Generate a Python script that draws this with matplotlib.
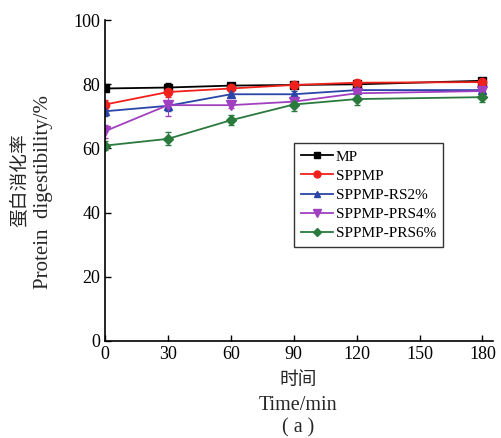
import matplotlib.pyplot as plt
from matplotlib.lines import Line2D

plt.rcParams["font.family"] = ["Liberation Serif", "Noto Sans CJK SC"]

time_min = [0, 30, 60, 90, 120, 180]
labels = ["MP", "SPPMP", "SPPMP-RS2%", "SPPMP-PRS4%", "SPPMP-PRS6%"]
mp = [78.7, 79.0, 79.6, 79.8, 80.0, 81.1]
sppmp = [73.7, 77.6, 78.7, 79.8, 80.5, 80.7]
rs2 = [71.6, 73.3, 76.9, 76.9, 78.2, 78.2]
prs4 = [65.4, 73.5, 73.5, 74.6, 77.2, 77.9]
prs6 = [60.9, 63.0, 68.8, 73.7, 75.4, 76.0]
mp_err = [0.8, 1.5, 0.8, 0.8, 0.8, 0.8]
sppmp_err = [1.5, 1.5, 0.8, 0.8, 0.8, 0.8]
rs2_err = [1.5, 1.5, 1.0, 1.0, 0.8, 0.8]
prs4_err = [2.0, 3.5, 1.0, 1.0, 1.0, 0.8]
prs6_err = [1.5, 2.0, 1.5, 2.0, 2.0, 1.5]

series = [mp, sppmp, rs2, prs4, prs6]
errors = [mp_err, sppmp_err, rs2_err, prs4_err, prs6_err]
colors = ["#000000", "#f0201c", "#2a44a8", "#a040c0", "#2a7a3e"]
markers = ["s", "o", "^", "v", "D"]
msizes = [5.5, 6, 6, 6.5, 5.5]


def main():
    fig = plt.figure(figsize=(5.01, 4.38), dpi=100)
    ax = fig.add_axes([0.2096, 0.2215, 0.7744, 0.7325])

    handles = []
    for y, e, c, m, ms, lab in zip(series, errors, colors, markers, msizes, labels):
        ax.errorbar(time_min, y, yerr=e, color=c, marker=m, markersize=ms,
                    lw=1.3, elinewidth=0.8, capsize=2)
        handles.append(Line2D([], [], color=c, marker=m, markersize=ms - 1, lw=1.3, label=lab))

    ax.set_xlim(0, 185)
    ax.set_ylim(0, 100)
    ax.set_xticks(range(0, 181, 30))
    ax.set_yticks(range(0, 101, 20))
    ax.spines["top"].set_visible(False)
    ax.spines["right"].set_visible(False)
    ax.spines["left"].set_linewidth(1.2)
    ax.spines["bottom"].set_linewidth(1.2)
    ax.tick_params(direction="in", labelsize=13, length=4, width=1)

    # two-line y label, Chinese above English
    fig.text(20 / 501, 0.589, "蛋白消化率", rotation=90, ha="center", va="center",
             fontsize=13.5, color="0.15")
    fig.text(44 / 501, 0.562, "Protein  digestibility/%", rotation=90, ha="center",
             va="center", fontsize=15, color="0.15")

    fig.text(0.595, 0.1324, "时间", ha="center", va="center", fontsize=13.5, color="0.15")
    fig.text(0.595, 0.0753, "Time/min", ha="center", va="center", fontsize=14.5, color="0.15")
    fig.text(0.595, 0.0228, "( a )", ha="center", va="center", fontsize=14.5, color="0.15")

    leg = ax.legend(handles=handles, loc="upper left", bbox_to_anchor=(0.487, 0.617),
                    fontsize=11, frameon=True, fancybox=False, edgecolor="black",
                    handlelength=2.1, handletextpad=0.2, labelspacing=0.36,
                    borderpad=0.45, borderaxespad=0)
    leg.get_frame().set_linewidth(1.0)

    fig.savefig("out.png", dpi=100)


if __name__ == "__main__":
    main()
